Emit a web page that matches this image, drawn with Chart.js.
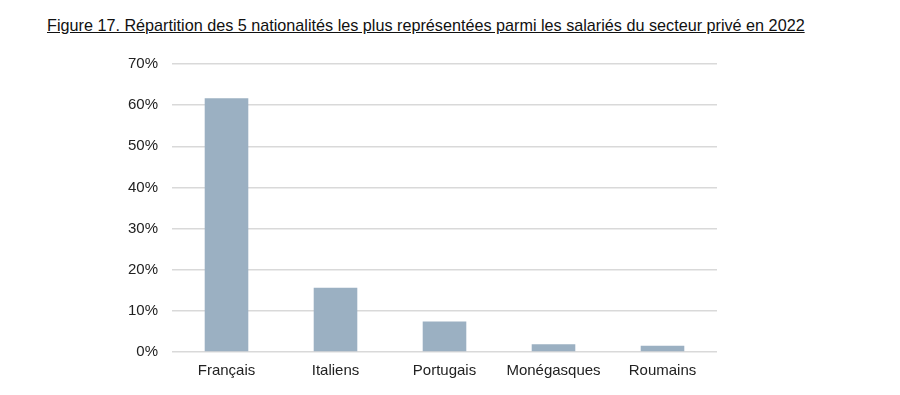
<!DOCTYPE html>
<html>
<head>
<meta charset="utf-8">
<script src="https://cdn.jsdelivr.net/npm/chart.js@4"></script>
<style>
  html, body { margin: 0; padding: 0; background: #fff; }
  #wrap { position: relative; width: 900px; height: 395px; }
  #title {
    position: absolute; left: 47px; top: 16px;
    font-family: "Liberation Sans", Arial, sans-serif; font-size: 16.2px;
    color: #111; text-decoration: underline; white-space: nowrap;
  }
  canvas { position: absolute; left: 0; top: 0; }
</style>
</head>
<body>
<div id="wrap">
  <div id="title">Figure 17. Répartition des 5 nationalités les plus représentées parmi les salariés du secteur privé en 2022</div>
  <canvas id="chart" width="900" height="395"></canvas>
</div>
<script>
const categories = ['Français', 'Italiens', 'Portugais', 'Monégasques', 'Roumains'];
const shares = [61.7, 15.6, 7.4, 1.9, 1.5];
const tickValues = [0, 10, 20, 30, 40, 50, 60, 70];

const font = { family: '"Liberation Sans", Arial, sans-serif', size: 15 };

new Chart(document.getElementById('chart'), {
    type: 'bar',
    data: {
        labels: categories,
        datasets: [{
            data: shares,
            backgroundColor: '#9bb0c2',
            borderWidth: 0,
            barPercentage: 0.4,
            categoryPercentage: 1
        }]
    },
    options: {
        responsive: false,
        animation: false,
        layout: { padding: { top: 64, right: 183, bottom: 0, left: 0 } },
        plugins: { legend: { display: false }, tooltip: { enabled: false } },
        scales: {
            x: {
                grid: { display: false, drawTicks: false },
                border: { display: false },
                ticks: { color: '#222', font: font, padding: 10 },
                afterFit: s => { s.height = 43; }
            },
            y: {
                min: 0,
                max: 70,
                afterBuildTicks: s => { s.ticks = tickValues.map(v => ({ value: v })); },
                grid: { color: '#d9d9d9', lineWidth: 1.5, drawTicks: false },
                border: { display: false },
                ticks: { color: '#222', font: font, padding: 14, callback: v => v + '%' },
                afterFit: s => { s.width = 172; }
            }
        }
    }
});
</script>
</body>
</html>
